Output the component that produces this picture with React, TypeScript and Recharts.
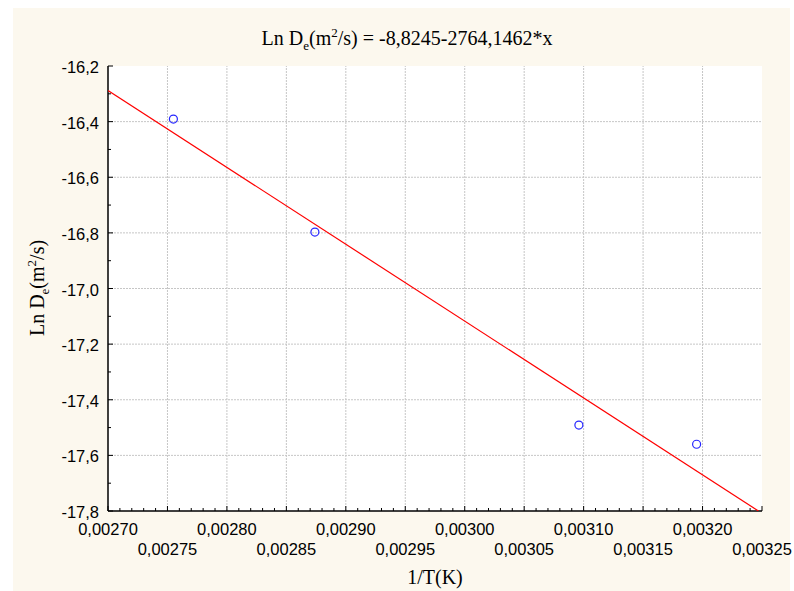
import React from 'react'
import {
  ScatterChart,
  Scatter,
  XAxis,
  YAxis,
  CartesianGrid,
  ReferenceLine,
} from 'recharts'

// measured points (1/T, Ln De)
const invT = [0.002755, 0.002874, 0.003096, 0.003195]
const lnDe = [-16.391, -16.797, -17.491, -17.56]

// fitted line end points, Ln De = -8,8245 - 2764,1462*x (clipped to the frame)
const fitX = [0.0027, 0.003247]
const fitY = [-16.288, -17.8]

const xMajor = [
  0.0027, 0.00275, 0.0028, 0.00285, 0.0029, 0.00295, 0.003, 0.00305, 0.0031, 0.00315, 0.0032, 0.00325,
]
const yMajor = [-17.8, -17.6, -17.4, -17.2, -17.0, -16.8, -16.6, -16.4, -16.2]

const points = invT.map((x, i) => ({ x, y: lnDe[i] }))
const fitLine = fitX.map((x, i) => ({ x, y: fitY[i] }))

// minor ticks every 0.00001 on x and 0.1 on y
const xTicks: number[] = []
for (let i = 0; i <= 55; i++) xTicks.push(Number((0.0027 + i * 0.00001).toFixed(5)))
const yTicks: number[] = []
for (let i = 0; i <= 16; i++) yTicks.push(Number((-17.8 + i * 0.1).toFixed(1)))

const X0 = 0.0027
const Y0 = -17.8
const xIdx = (v: number) => Math.round((v - X0) / 0.00001)
const yIdx = (v: number) => Math.round((v - Y0) / 0.1)

const tickFont = '"Liberation Sans", Arial, sans-serif'
const serif = '"Liberation Serif", "Times New Roman", serif'

const BottomTick = (props: any) => {
  const { x, y, payload } = props
  const i = xIdx(payload.value)
  const major = i % 5 === 0
  const row = (i / 5) % 2
  return (
    <g>
      <line x1={x} x2={x} y1={y} y2={y - (major ? 5 : 3)} stroke="#000" strokeWidth={1} />
      {major && (
        <text
          x={x}
          y={y + (row === 0 ? 24 : 44)}
          textAnchor="middle"
          fontFamily={tickFont}
          fontSize={16.5}
          fill="#000"
        >
          {payload.value.toFixed(5).replace('.', ',')}
        </text>
      )}
    </g>
  )
}

const TopTick = (props: any) => {
  const { x, y, payload } = props
  const major = xIdx(payload.value) % 5 === 0
  return <line x1={x} x2={x} y1={y} y2={y + (major ? 5 : 3)} stroke="#000" strokeWidth={1} />
}

const LeftTick = (props: any) => {
  const { x, y, payload } = props
  const major = yIdx(payload.value) % 2 === 0
  return (
    <g>
      <line x1={x} x2={x + (major ? 5 : 3)} y1={y} y2={y} stroke="#000" strokeWidth={1} />
      {major && (
        <text x={x - 9} y={y + 7} textAnchor="end" fontFamily={tickFont} fontSize={16.5} fill="#000">
          {payload.value.toFixed(1).replace('.', ',')}
        </text>
      )}
    </g>
  )
}

const RightTick = (props: any) => {
  const { x, y, payload } = props
  const major = yIdx(payload.value) % 2 === 0
  return <line x1={x} x2={x - (major ? 5 : 3)} y1={y} y2={y} stroke="#000" strokeWidth={1} />
}

const axisLine = { stroke: '#000', strokeWidth: 1.5 }

export default function App() {
  return (
    <div style={{ position: 'relative', width: 794, height: 591 }}>
      <style>{'body{margin:0}'}</style>
      <div
        style={{
          position: 'absolute',
          left: 13,
          top: 8,
          width: 777,
          height: 583,
          background: '#fcf8ee',
        }}
      />
      <div style={{ position: 'absolute', left: 0, top: 0 }}>
        <ScatterChart width={794} height={591} margin={{ top: 66, right: 32, left: 0, bottom: 0 }}>
          <CartesianGrid xAxisId="b" yAxisId="l" fill="#fff" stroke="none" vertical={false} horizontal={false} />
          <XAxis
            xAxisId="b"
            dataKey="x"
            type="number"
            domain={[0.0027, 0.00325]}
            ticks={xTicks}
            interval={0}
            allowDataOverflow
            height={80}
            tickSize={0}
            tickMargin={0}
            tickLine={false}
            axisLine={axisLine}
            tick={BottomTick}
          />
          <XAxis
            xAxisId="t"
            orientation="top"
            dataKey="x"
            type="number"
            domain={[0.0027, 0.00325]}
            ticks={xTicks}
            interval={0}
            allowDataOverflow
            height={0}
            tickSize={0}
            tickMargin={0}
            tickLine={false}
            axisLine={axisLine}
            tick={TopTick}
          />
          <YAxis
            yAxisId="l"
            dataKey="y"
            type="number"
            domain={[-17.8, -16.2]}
            ticks={yTicks}
            interval={0}
            allowDataOverflow
            width={108}
            tickSize={0}
            tickMargin={0}
            tickLine={false}
            axisLine={axisLine}
            tick={LeftTick}
          />
          <YAxis
            yAxisId="r"
            orientation="right"
            dataKey="y"
            type="number"
            domain={[-17.8, -16.2]}
            ticks={yTicks}
            interval={0}
            allowDataOverflow
            width={0}
            tickSize={0}
            tickMargin={0}
            tickLine={false}
            axisLine={axisLine}
            tick={RightTick}
          />
          {xMajor.slice(1, -1).map(v => (
            <ReferenceLine key={'gx' + v} xAxisId="b" yAxisId="l" x={v} stroke="#c6c6c6" strokeDasharray="2 1" />
          ))}
          {yMajor.slice(1, -1).map(v => (
            <ReferenceLine key={'gy' + v} xAxisId="b" yAxisId="l" y={v} stroke="#c6c6c6" strokeDasharray="2 1" />
          ))}
          <Scatter
            xAxisId="b"
            yAxisId="l"
            data={fitLine}
            line={{ stroke: '#ff0000', strokeWidth: 1.2 }}
            shape={() => <g />}
            isAnimationActive={false}
          />
          <Scatter
            xAxisId="b"
            yAxisId="l"
            data={points}
            isAnimationActive={false}
            shape={(p: any) => (
              <circle cx={p.cx} cy={p.cy} r={4} fill="none" stroke="#2626ff" strokeWidth={1.2} />
            )}
          />
        </ScatterChart>
      </div>
      <svg
        width={794}
        height={591}
        style={{ position: 'absolute', left: 0, top: 0, pointerEvents: 'none' }}
      >
        <text x={407} y={45} textAnchor="middle" fontFamily={serif} fontSize={20} fill="#000">
          Ln D
          <tspan fontSize={13} dy={5}>e</tspan>
          <tspan dy={-5}>(m</tspan>
          <tspan fontSize={13} dy={-8}>2</tspan>
          <tspan dy={8}>/s) = -8,8245-2764,1462*x</tspan>
        </text>
        <text x={435} y={584} textAnchor="middle" fontFamily={serif} fontSize={20} fill="#000">
          1/T(K)
        </text>
        <text
          transform="translate(44,288) rotate(-90)"
          x={0}
          y={0}
          textAnchor="middle"
          fontFamily={serif}
          fontSize={20}
          fill="#000"
        >
          Ln D
          <tspan fontSize={13} dy={5}>e</tspan>
          <tspan dy={-5}>(m</tspan>
          <tspan fontSize={13} dy={-8}>2</tspan>
          <tspan dy={8}>/s)</tspan>
        </text>
      </svg>
    </div>
  )
}
